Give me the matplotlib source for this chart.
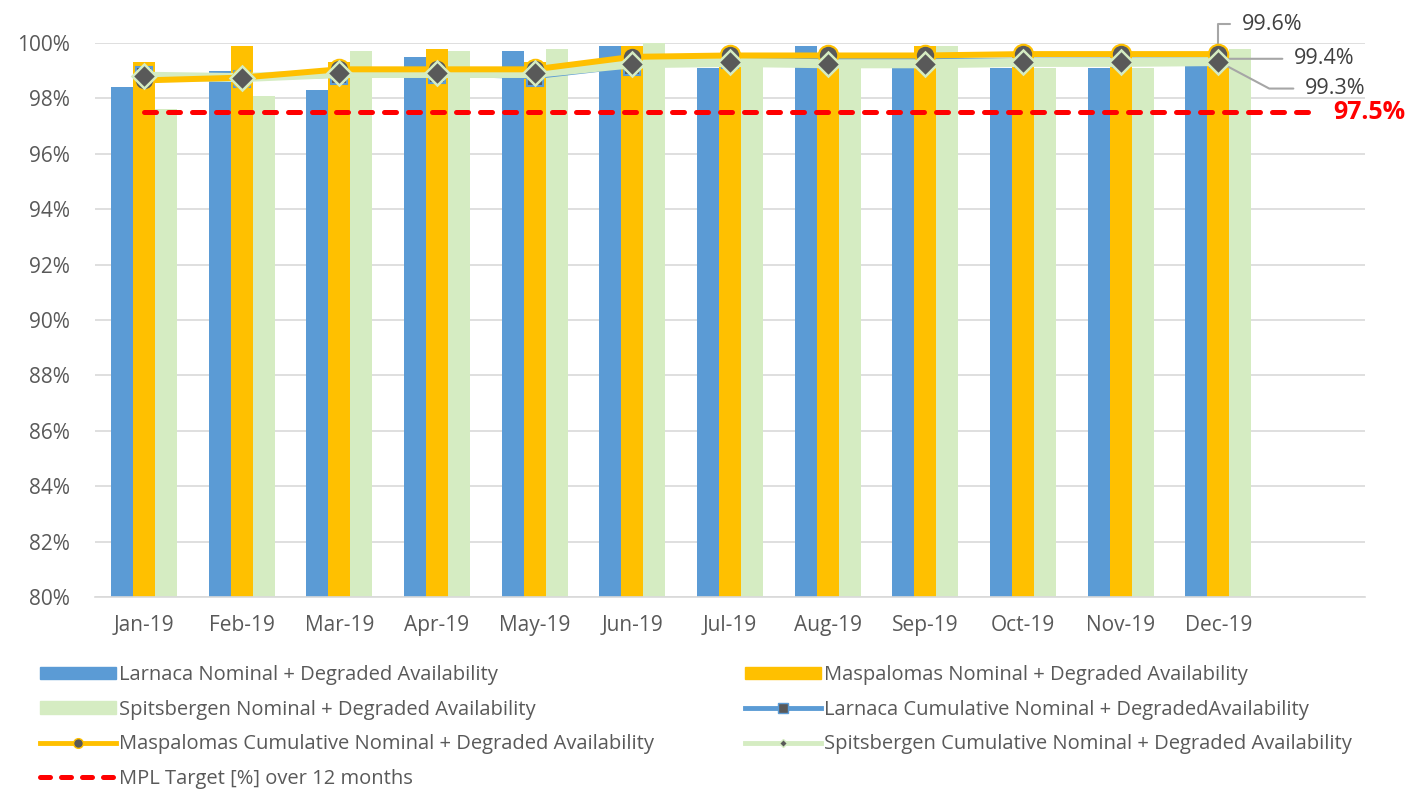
import matplotlib.pyplot as plt
from matplotlib.lines import Line2D
from matplotlib.patches import Patch
import numpy as np

plt.rcParams['font.family'] = ['Open Sans', 'DejaVu Sans']

months = ['Jan-19', 'Feb-19', 'Mar-19', 'Apr-19', 'May-19', 'Jun-19',
          'Jul-19', 'Aug-19', 'Sep-19', 'Oct-19', 'Nov-19', 'Dec-19']

# monthly availability [%]
larnaca = [98.4, 99.0, 98.3, 99.5, 99.7, 99.9, 99.1, 99.9, 99.4, 99.1, 99.1, 99.2]
maspalomas = [99.3, 99.9, 99.3, 99.8, 99.3, 99.9, 99.5, 99.5, 99.9, 99.6, 99.6, 99.6]
spitsbergen = [97.6, 98.1, 99.7, 99.7, 99.8, 100.0, 99.4, 99.1, 99.9, 99.1, 99.1, 99.8]

# cumulative availability [%]
larnaca_cum = [98.85, 98.7, 98.8, 98.85, 98.75, 99.15, 99.4, 99.4, 99.4, 99.42, 99.42, 99.43]
maspalomas_cum = [98.65, 98.75, 99.05, 99.05, 99.05, 99.5, 99.55, 99.55, 99.55, 99.6, 99.6, 99.6]
spitsbergen_cum = [98.8, 98.75, 98.9, 98.9, 98.9, 99.25, 99.3, 99.25, 99.25, 99.3, 99.3, 99.33]

target = [97.5] * 13

yticks = [80, 82, 84, 86, 88, 90, 92, 94, 96, 98, 100]

blue = '#5B9BD5'
yellow = '#FFC000'
green = '#D5ECC2'
dark = '#595959'

W, H = 1409, 791
fig = plt.figure(figsize=(W / 100, H / 100), dpi=100)
ax = fig.add_axes([95 / W, 1 - 597 / H, 1270 / W, 554 / H])

x = np.arange(len(months))
w = 0.225
ax.bar(x - w, larnaca, w, color=blue, zorder=2)
ax.bar(x, maspalomas, w, color=yellow, zorder=2)
ax.bar(x + w, spitsbergen, w, color=green, zorder=2)

ax.plot(np.arange(len(target)), target, color='#FF0000', lw=3.6,
        linestyle=(0, (2.4, 2.4)), dash_capstyle='round', zorder=3)

ax.plot(x, larnaca_cum, color=blue, lw=2.2, marker='s', ms=11,
        mfc=dark, mec=blue, mew=1.5, zorder=4, clip_on=False)
ax.plot(x, spitsbergen_cum, color=green, lw=6.5, zorder=4, clip_on=False)
ax.plot(x, maspalomas_cum, color=yellow, lw=4.3, marker='o', ms=14,
        mfc=dark, mec=yellow, mew=1.5, zorder=5, clip_on=False)
ax.plot(x, spitsbergen_cum, color=green, lw=0, marker='D', ms=12,
        mfc=dark, mec=green, mew=1.8, zorder=6, clip_on=False)

ax.set_xlim(-0.5, 12.5)
ax.set_ylim(80, 100)
ax.set_xticks(x)
ax.set_xticklabels(months)
ax.set_yticks(yticks)
ax.set_yticklabels([f'{v}%' for v in yticks])
ax.tick_params(length=0, labelsize=15, labelcolor=dark)
ax.tick_params(axis='x', pad=13)
ax.tick_params(axis='y', pad=18)
ax.grid(axis='y', color='#D9D9D9', lw=1.2, zorder=0)
ax.set_axisbelow(True)
for s in ['left', 'right', 'top']:
    ax.spines[s].set_visible(False)
ax.spines['bottom'].set_color('#D9D9D9')
ax.spines['bottom'].set_linewidth(1.2)

# end labels
grey = '#A6A6A6'
lab_kw = dict(textcoords='offset pixels', ha='left', va='center',
              fontsize=15.5, color='#404040', annotation_clip=False)
ax.annotate(f'{maspalomas_cum[-1]:.1f}%', xy=(11, maspalomas_cum[-1]),
            xytext=(23, 30),
            arrowprops=dict(arrowstyle='-', color=grey, lw=1.5, relpos=(0, 0.5),
                            shrinkA=6, shrinkB=2,
                            connectionstyle='angle,angleA=0,angleB=90,rad=0'),
            **lab_kw)
ax.annotate(f'{larnaca_cum[-1]:.1f}%', xy=(11, larnaca_cum[-1]),
            xytext=(75, 0),
            arrowprops=dict(arrowstyle='-', color=grey, lw=1.5, relpos=(0, 0.5),
                            shrinkA=6, shrinkB=2),
            **lab_kw)
ax.annotate(f'{spitsbergen_cum[-1]:.1f}%', xy=(11, spitsbergen_cum[-1]),
            xytext=(86, -27),
            arrowprops=dict(arrowstyle='-', color=grey, lw=1.5, relpos=(0, 0.5),
                            shrinkA=6, shrinkB=2,
                            connectionstyle='angle,angleA=0,angleB=-28,rad=0'),
            **lab_kw)
ax.annotate(f'{target[-1]}%', xy=(12, target[-1]), xytext=(17, 0),
            textcoords='offset pixels', ha='left', va='center', fontsize=18,
            fontweight='bold', color='#FF0000', annotation_clip=False)

# legend, two columns placed by hand
h_lar = Patch(color=blue)
h_mas = Patch(color=yellow)
h_spi = Patch(color=green)
h_lar_c = Line2D([], [], color=blue, lw=3.5, marker='s', ms=7, mfc=dark, mec=blue)
h_mas_c = Line2D([], [], color=yellow, lw=3.5, marker='o', ms=7, mfc=dark, mec=yellow)
h_spi_c = Line2D([], [], color=green, lw=3.5, marker='D', ms=4, mfc=dark, mec=green)
h_tgt = Line2D([], [], color='#FF0000', lw=3.6, linestyle=(0, (2.0, 2.2)),
               dash_capstyle='round')

leg_kw = dict(loc='upper left', frameon=False, fontsize=14.5, borderpad=0,
              borderaxespad=0, handlelength=3.75, handleheight=0.6,
              handletextpad=0.15, labelspacing=0.73, labelcolor=dark)
fig.legend([h_lar, h_spi, h_mas_c, h_tgt],
           ['Larnaca Nominal + Degraded Availability',
            'Spitsbergen Nominal + Degraded Availability',
            'Maspalomas Cumulative Nominal + Degraded Availability',
            'MPL Target [%] over 12 months'],
           bbox_to_anchor=(40 / W, 1 - 665 / H), **leg_kw)
fig.legend([h_mas, h_lar_c, h_spi_c],
           ['Maspalomas Nominal + Degraded Availability',
            'Larnaca Cumulative Nominal + DegradedAvailability',
            'Spitsbergen Cumulative Nominal + Degraded Availability'],
           bbox_to_anchor=(745 / W, 1 - 665 / H), **leg_kw)

fig.savefig('out.png', dpi=100)
